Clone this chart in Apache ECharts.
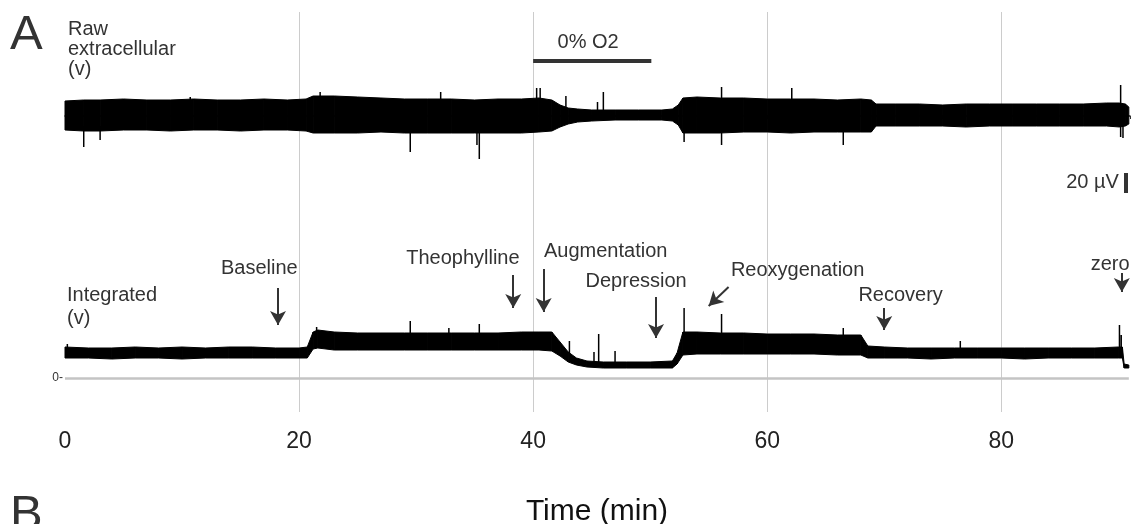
<!DOCTYPE html>
<html>
<head>
<meta charset="utf-8">
<script src="https://cdn.jsdelivr.net/npm/echarts@6/dist/echarts.min.js"></script>
<style>
  html, body { margin: 0; padding: 0; background: #fff; }
  #chart { width: 1135px; height: 524px; }
</style>
</head>
<body>
<div id="chart"></div>
<script>
// raw extracellular trace: envelope of the noise band (uV)
var rawTime  = [0, 1.6, 3, 5, 7, 9, 11, 13, 15, 17, 19, 20.6, 21.2, 23, 25, 27, 29, 31, 33, 35, 37, 39, 40.5, 41.6, 42.3, 43, 43.8, 45, 47, 49, 51, 51.9, 52.4, 52.8, 54, 56, 58, 60, 62, 64, 66, 68, 68.9, 69.3, 71, 73, 75, 77, 79, 81, 83, 85, 87, 89, 90.1, 90.6, 90.9];
var rawUpper = [15, 16, 16, 17, 16, 16, 17, 16, 16, 17, 16, 17, 20, 20, 19, 18, 17, 17, 17, 16, 17, 17, 18, 16, 11, 8, 7, 6, 6, 6, 6, 7, 11, 18, 19, 18, 18, 17, 17, 17, 16, 17, 16, 12, 12, 12, 11, 12, 12, 12, 12, 12, 12, 13, 13, 12, 9];
var rawLower = [-14, -15, -15, -14, -14, -15, -14, -14, -15, -14, -14, -15, -17, -17, -17, -16, -17, -17, -17, -17, -17, -17, -16, -15, -11, -8, -6, -5, -4, -4, -4, -5, -9, -17, -17, -17, -16, -16, -17, -16, -16, -16, -16, -10, -10, -10, -10, -11, -10, -10, -10, -10, -10, -10, -11, -10, -8];
// isolated spikes [time, from, to]
var rawSpikes = [[1.6, -10, -31], [3.0, -10, -24], [10.7, 10, 19], [21.8, 10, 24], [29.5, -10, -36], [32.1, 10, 24], [35.2, -10, -29], [35.4, -10, -43], [40.3, 10, 28], [40.6, 10, 28], [42.8, 5, 20], [45.5, 4, 14], [46.0, 4, 24], [52.9, -10, -26], [56.1, -29, 29], [62.1, 10, 28], [66.5, -10, -29], [90.2, -21, 31], [90.4, -8, -22]];

// integrated trace envelope (arbitrary units, 0 = zero line)
var intTime  = [0, 2, 4, 6, 8, 10, 12, 14, 16, 18, 20, 20.7, 21.2, 21.6, 23, 25, 27, 29, 31, 33, 35, 37, 39, 40.5, 41.6, 42.3, 43, 43.7, 44.6, 46, 48, 50, 51.9, 52.3, 52.8, 54, 56, 58, 60, 62, 64, 66, 68, 68.6, 70, 72, 74, 76, 78, 80, 82, 84, 86, 88, 90, 90.35, 90.5, 90.9];
var intUpper = [31, 30, 30, 31, 30, 31, 30, 31, 31, 30, 30, 31, 46, 48, 46, 45, 45, 45, 45, 45, 45, 45, 46, 46, 46, 36, 26, 20, 17, 16, 16, 16, 17, 25, 46, 46, 45, 45, 44, 44, 44, 43, 43, 32, 31, 30, 30, 30, 30, 30, 30, 30, 30, 30, 31, 31, 14, 13];
var intLower = [20, 20, 19, 20, 20, 19, 20, 20, 20, 20, 20, 20, 29, 30, 28, 28, 28, 28, 28, 28, 28, 28, 28, 28, 27, 22, 16, 13, 11, 10, 10, 10, 10, 14, 23, 24, 24, 24, 24, 24, 24, 23, 23, 20, 20, 20, 19, 20, 20, 20, 19, 20, 20, 20, 20, 20, 10, 10];
var intSpikes = [[0.2, 25, 34], [21.5, 40, 51], [29.5, 40, 57], [32.8, 40, 50], [35.4, 40, 54], [43.1, 20, 37], [45.2, 12, 26], [45.6, 12, 44], [47.0, 12, 27], [52.9, 35, 70], [56.1, 40, 64], [66.5, 40, 50], [76.5, 25, 37], [90.1, 25, 53], [90.25, 25, 43]];

// event annotations on the integrated trace: label centre and arrow [from, tip]
var eventNames  = ['Baseline', 'Theophylline', 'Augmentation', 'Depression', 'Reoxygenation', 'Recovery', 'zero'];
var eventLabels = [[16.6, 110], [34.0, 120], [46.2, 127], [48.8, 97], [62.6, 108], [71.4, 83], [89.3, 114]];
var eventArrows = [[[18.2, 90], [18.2, 53]], [[38.3, 103], [38.3, 70]], [[40.9, 109], [40.9, 66]], [[50.5, 81], [50.5, 40]], [[56.7, 91], [55.0, 72]], [[70.0, 70], [70.0, 48]], [[90.3, 105], [90.3, 86]]];

// hypoxia period and scale bar
var hypoxia = [40, 50.1];
var scaleBar = [-57, -77];

var xTicks = { min: 0, max: 91, interval: 20 };

var FONT = 'Liberation Sans, Arial, sans-serif';

function bandData(t, lo, hi) {
  return t.map(function (v, i) { return [v, lo[i], hi[i]]; });
}
function spikeData(sp) {
  var out = [];
  sp.forEach(function (s) { out.push([s[0], s[1]], [s[0], s[2]], '-'); });
  return out;
}
// draws the noise band as quads between neighbouring envelope points
function bandSeries(data, yIndex) {
  return {
    type: 'custom', yAxisIndex: yIndex, silent: true,
    encode: { x: 0, y: [1, 2] },
    data: data,
    renderItem: function (params, api) {
      var i = params.dataIndex;
      if (i >= data.length - 1) return;
      var a = data[i], b = data[i + 1];
      var pts = [
        api.coord([a[0], a[1]]), api.coord([b[0], b[1]]),
        api.coord([b[0], b[2]]), api.coord([a[0], a[2]])
      ];
      return {
        type: 'polygon',
        shape: { points: pts },
        style: { fill: '#000', stroke: '#000', lineWidth: 1 }
      };
    }
  };
}

var myChart = echarts.init(document.getElementById('chart'));

var labelStyle = { show: true, position: 'inside', formatter: '{b}', color: '#333', fontSize: 20, fontFamily: FONT };

var option = {
  animation: false,
  grid: { left: 65, right: 5, top: 12, bottom: 112 },
  xAxis: {
    type: 'value',
    min: xTicks.min,
    max: xTicks.max,
    interval: xTicks.interval,
    axisLine: { lineStyle: { color: '#222', width: 1.5 } },
    axisTick: { show: true, length: 3, lineStyle: { color: '#333' } },
    minorTick: { show: true, splitNumber: 4, length: 3, lineStyle: { color: '#333' } },
    axisLabel: { fontSize: 23, color: '#222', margin: 18, fontFamily: FONT, showMaxLabel: false },
    splitLine: { show: true, showMinLine: false, showMaxLine: false, lineStyle: { color: '#cccccc', width: 1 } }
  },
  yAxis: [
    { type: 'value', min: -296, max: 104, show: false },
    { type: 'value', min: -34, max: 366, show: false }
  ],
  series: [
    bandSeries(bandData(rawTime, rawLower, rawUpper), 0),
    {
      type: 'line', yAxisIndex: 0, data: spikeData(rawSpikes), symbol: 'none', silent: true,
      connectNulls: false, lineStyle: { color: '#000', width: 1.5 },
      markLine: {
        silent: true, symbol: ['none', 'none'],
        label: { show: false },
        lineStyle: { type: 'solid', color: '#333', width: 4 },
        data: [
          [{ coord: [hypoxia[0], 55] }, { coord: [hypoxia[1], 55] }],
          [{ coord: [90.6, scaleBar[0]] }, { coord: [90.6, scaleBar[1]] }]
        ]
      },
      markPoint: {
        symbol: 'rect', symbolSize: 1, silent: true,
        itemStyle: { color: 'rgba(0,0,0,0)' },
        label: labelStyle,
        data: [
          { name: '0% O2', coord: [44.7, 74] },
          { name: '20 µV', coord: [87.8, -66] }
        ]
      }
    },
    bandSeries(bandData(intTime, intLower, intUpper), 1),
    {
      type: 'line', yAxisIndex: 1, data: spikeData(intSpikes), symbol: 'none', silent: true,
      connectNulls: false, lineStyle: { color: '#000', width: 1.5 },
      markLine: {
        silent: true, symbol: ['none', 'arrow'], symbolSize: [12, 14],
        label: { show: false },
        lineStyle: { type: 'solid', color: '#333', width: 2 },
        data: eventArrows.map(function (a) { return [{ coord: a[0] }, { coord: a[1] }]; })
      },
      markPoint: {
        symbol: 'rect', symbolSize: 1, silent: true,
        itemStyle: { color: 'rgba(0,0,0,0)' },
        label: labelStyle,
        data: eventNames.map(function (n, i) { return { name: n, coord: eventLabels[i] }; })
      }
    },
    {
      // zero reference line of the integrated trace
      type: 'line', yAxisIndex: 1, data: [], symbol: 'none', silent: true,
      markLine: {
        silent: true, symbol: ['none', 'none'],
        lineStyle: { type: 'solid', color: '#c4c4c4', width: 2.5 },
        label: { show: true, position: 'start', formatter: '0-', fontSize: 12, color: '#333', distance: 2, fontFamily: FONT },
        data: [[{ coord: [0, 0] }, { coord: [90.9, 0] }]]
      },
      z: 1
    }
  ],
  graphic: [
    { type: 'text', left: 10, top: 11, style: { text: 'A', font: '49px ' + FONT, fill: '#333' } },
    { type: 'text', left: 10, top: 491, style: { text: 'B', font: '49px ' + FONT, fill: '#333' } },
    { type: 'text', left: 68, top: 19, style: { text: 'Raw\nextracellular\n(v)', font: '20px ' + FONT, lineHeight: 20, fill: '#333' } },
    { type: 'text', left: 67, top: 284, style: { text: 'Integrated\n(v)', font: '20px ' + FONT, lineHeight: 23, fill: '#333' } },
    { type: 'text', x: 597, y: 512, style: { text: 'Time (min)', font: '30px ' + FONT, fill: '#111', align: 'center', verticalAlign: 'middle' } }
  ]
};

myChart.setOption(option);
</script>
</body>
</html>
